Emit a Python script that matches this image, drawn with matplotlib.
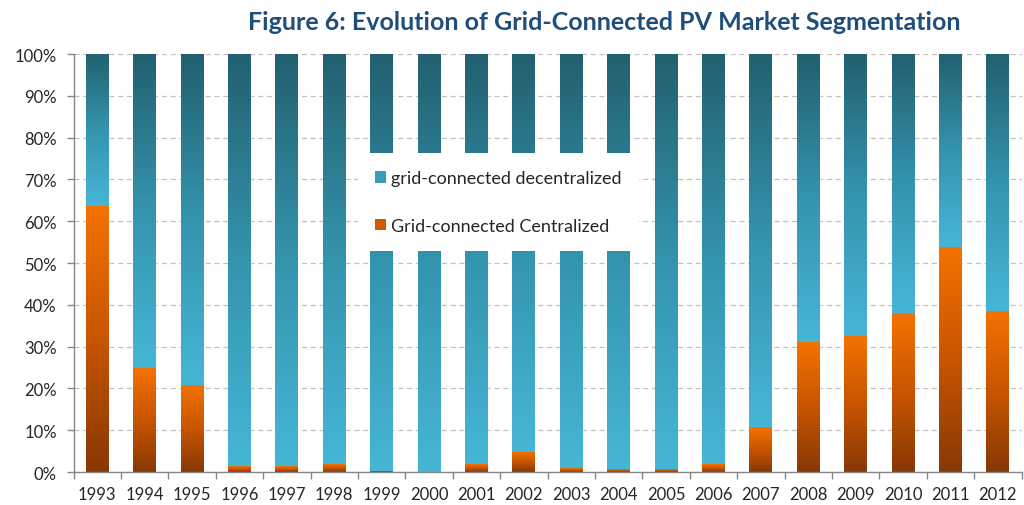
import numpy as np
import matplotlib.pyplot as plt
from matplotlib.colors import LinearSegmentedColormap
from matplotlib.patches import Patch
from matplotlib.ticker import FuncFormatter

plt.rcParams['font.family'] = ['Lato', 'DejaVu Sans']

# shares in %
years = ['1993', '1994', '1995', '1996', '1997', '1998', '1999', '2000', '2001', '2002',
         '2003', '2004', '2005', '2006', '2007', '2008', '2009', '2010', '2011', '2012']
centralized = [63.6, 24.8, 20.9, 1.4, 1.4, 1.9, 0.3, 0.0, 1.9, 4.9,
               0.9, 0.7, 0.7, 1.9, 10.7, 31.2, 32.5, 38.0, 53.8, 38.5]
decentralized = [36.4, 75.2, 79.1, 98.6, 98.6, 98.1, 99.7, 100.0, 98.1, 95.1,
                 99.1, 99.3, 99.3, 98.1, 89.3, 68.8, 67.5, 62.0, 46.2, 61.5]
labels = ['Grid-connected Centralized', 'grid-connected decentralized']
title = 'Figure 6: Evolution of Grid-Connected PV Market Segmentation'

orange_cm = LinearSegmentedColormap.from_list('orng', ['#873805', '#C85500', '#F47200'])
teal_cm = LinearSegmentedColormap.from_list('teal', ['#46B6D6', '#3494AE', '#22606F'])

fig = plt.figure(figsize=(10.24, 5.06), dpi=100)
ax = fig.add_axes([0.0718, 0.0652, 0.9258, 0.8261])

x = np.arange(len(years))
b1 = ax.bar(x, centralized, width=0.48, zorder=2)
b2 = ax.bar(x, decentralized, width=0.48, bottom=centralized, zorder=2)

# fill each bar segment with a vertical gradient
grad = np.linspace(0, 1, 256).reshape(-1, 1)
for bars, cm in [(b1, orange_cm), (b2, teal_cm)]:
    for bar in bars:
        bar.set_facecolor('none')
        bar.set_edgecolor((1, 1, 1, 0.35))
        bar.set_linewidth(0.8)
        if bar.get_height() <= 0:
            continue
        bx, by = bar.get_x(), bar.get_y()
        im = ax.imshow(grad, extent=[bx, bx + bar.get_width(), by, by + bar.get_height()],
                       origin='lower', aspect='auto', cmap=cm, zorder=2)
        im.set_clip_path(bar)

ax.set_xlim(-0.5, len(years) - 0.5)
ax.set_ylim(0, 100)

ax.set_yticks(np.arange(0, 101, 10))
ax.yaxis.set_major_formatter(FuncFormatter(lambda v, p: '%d%%' % v))
ax.set_xticks(x)
ax.set_xticklabels(years)
ax.set_xticks(np.arange(-0.5, len(years), 1), minor=True)
ax.tick_params(axis='x', which='major', length=0, pad=10, labelsize=12, colors='#262626')
ax.tick_params(axis='x', which='minor', length=5, color='#868686', width=1)
ax.tick_params(axis='y', length=5, color='#868686', width=1, pad=7, labelsize=12,
               labelcolor='#262626')

ax.grid(axis='y', linestyle=(0, (4, 3)), color='#C0C0C0', linewidth=0.9, zorder=0.5)
ax.set_axisbelow(True)
for s in ['top', 'right']:
    ax.spines[s].set_visible(False)
for s in ['left', 'bottom']:
    ax.spines[s].set_color('#868686')
    ax.spines[s].set_linewidth(1)

handles = [Patch(facecolor='#3A9DB8'), Patch(facecolor='#D05A00')]
leg = ax.legend(handles, labels[::-1], loc='upper left', bbox_to_anchor=(0.300, 0.763),
                frameon=True, fancybox=False, framealpha=1, facecolor='white',
                edgecolor='none', fontsize=13, labelspacing=1.75, handlelength=0.6,
                handleheight=0.6, handletextpad=0.3, borderpad=0.95, borderaxespad=0)
for t in leg.get_texts():
    t.set_color('#262626')

fig.text(0.59, 0.955, title, ha='center', va='center', fontsize=18,
         fontweight='bold', color='#1F4E7A')

fig.savefig('out.png', dpi=100)
